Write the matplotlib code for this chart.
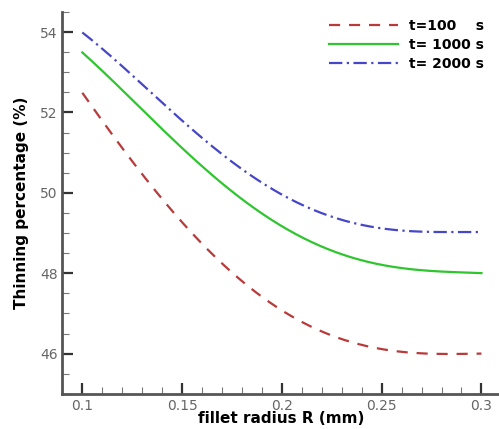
import numpy as np
import matplotlib
matplotlib.use("Agg")
import matplotlib.pyplot as plt
from matplotlib.ticker import MultipleLocator

# fillet radius (mm) and thinning percentage
radius = [0.1, 0.125, 0.15, 0.175, 0.2, 0.225, 0.25, 0.275, 0.3]
thin_100 = [52.5, 50.75, 49.3, 48.05, 47.0, 46.5, 46.1, 46.0, 46.0]
thin_1000 = [53.5, 52.3, 51.1, 50.1, 49.12, 48.56, 48.22, 48.06, 48.0]
thin_2000 = [54.0, 52.9, 51.8, 50.82, 49.92, 49.4, 49.12, 49.04, 49.02]
labels = ["t=100    s", "t= 1000 s", "t= 2000 s"]

# light polynomial smoothing through the read points
xs = np.linspace(radius[0], radius[-1], 300)
def smooth(y, deg=4):
    return np.polyval(np.polyfit(radius, y, deg), xs)

fig = plt.figure(figsize=(4.99, 4.29), dpi=100)
ax = fig.add_axes([0.125, 0.082, 0.875, 0.89])

ax.plot(xs, smooth(thin_100), color="#b83a3a", lw=1.6, ls=(0, (5, 4)), label=labels[0])
ax.plot(xs, smooth(thin_1000), color="#2fc52f", lw=1.6, ls="-", label=labels[1])
ax.plot(xs, smooth(thin_2000), color="#4646c8", lw=1.6, ls=(0, (6, 2, 1, 2)), label=labels[2])

ax.set_xlim(0.09, 0.3088)
ax.set_ylim(45, 54.5)
ax.xaxis.set_minor_locator(MultipleLocator(0.01))
ax.yaxis.set_major_locator(MultipleLocator(2))
ax.yaxis.set_minor_locator(MultipleLocator(0.5))
ax.set_xticks([0.1, 0.15, 0.2, 0.25, 0.3])
ax.set_xticklabels(["0.1", "0.15", "0.2", "0.25", "0.3"])

for s in ["top", "right"]:
    ax.spines[s].set_visible(False)
for s in ["left", "bottom"]:
    ax.spines[s].set_linewidth(2)
    ax.spines[s].set_color("#555555")

ax.tick_params(which="major", direction="in", length=8, width=1.6, color="#333333",
               labelsize=10, labelcolor="#666666")
ax.tick_params(which="minor", direction="in", length=5, width=0.8, color="#777777")

ax.set_xlabel("fillet radius R (mm)", fontsize=11, fontweight="bold", labelpad=-1)
ax.set_ylabel("Thinning percentage (%)", fontsize=11, fontweight="bold", labelpad=8)

ax.legend(loc="upper right", frameon=False, handlelength=5.0, handletextpad=0.8,
          prop={"weight": "bold", "size": 10}, labelspacing=0.35,
          bbox_to_anchor=(0.995, 1.015))

fig.savefig("out.png", dpi=100)
